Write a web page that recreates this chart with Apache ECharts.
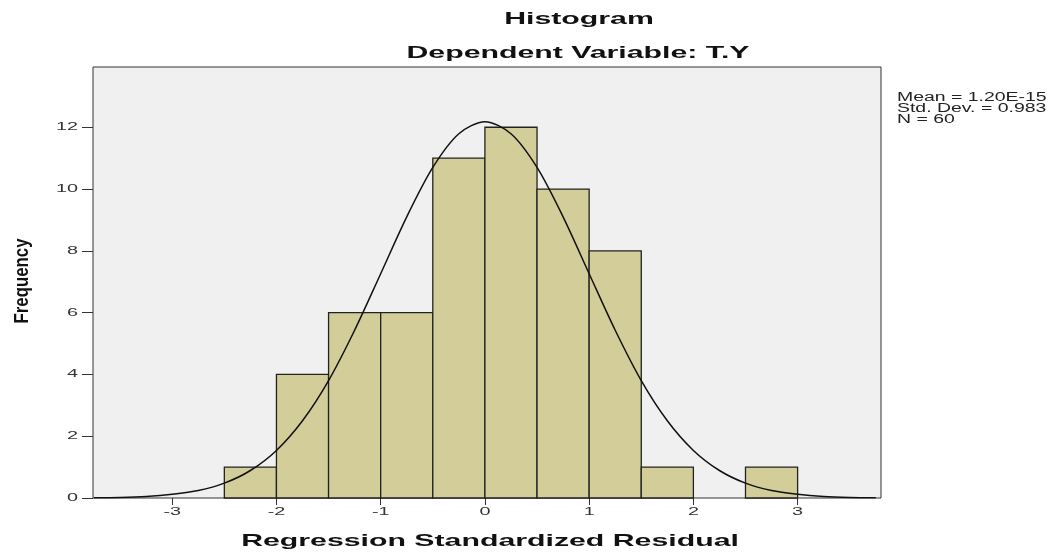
<!DOCTYPE html>
<html>
<head>
<meta charset="utf-8">
<script src="https://cdn.jsdelivr.net/npm/echarts@6/dist/echarts.min.js"></script>
<style>
	html, body { margin: 0; padding: 0; background: #fff; }
	#chart { width: 1060px; height: 556px; }
</style>
</head>
<body>
<div id="chart"></div>
<script>
// histogram bins (lower edge, width 0.5) and counts
const binStarts = [-2.5, -2.0, -1.5, -1.0, -0.5, 0.0, 0.5, 1.0, 1.5, 2.0, 2.5];
const binCounts = [1, 4, 6, 6, 11, 12, 10, 8, 1, 0, 1];
const binWidth = 0.5;

// normal curve, every 0.25
const curveX = [-3.75, -3.5, -3.25, -3, -2.75, -2.5, -2.25, -2, -1.75, -1.5, -1.25, -1, -0.75, -0.5, -0.25, 0,
	0.25, 0.5, 0.75, 1, 1.25, 1.5, 1.75, 2, 2.25, 2.5, 2.75, 3, 3.25, 3.5, 3.75];
const curveY = [0.01, 0.02, 0.05, 0.12, 0.24, 0.48, 0.89, 1.54, 2.5, 3.8, 5.43, 7.26, 9.1, 10.7, 11.79, 12.18,
	11.79, 10.7, 9.1, 7.26, 5.43, 3.8, 2.5, 1.54, 0.89, 0.48, 0.24, 0.12, 0.05, 0.02, 0.01];

const xTicks = [-3, -2, -1, 0, 1, 2, 3];
const yTicks = [0, 2, 4, 6, 8, 10, 12];
const statsLines = ["Mean = 1.20E-15", "Std. Dev. = 0.983", "N = 60"];

// the source picture is stretched sideways, so texts get a horizontal scale
const STRETCH = 1.78;
const FONT = "Liberation Sans, Arial, sans-serif";

const chart = echarts.init(document.getElementById("chart"));

chart.setOption({
	animation: false,
	textStyle: { fontFamily: FONT },
	grid: {
		left: 93,
		right: 179,
		top: 67,
		bottom: 58,
		show: true,
		backgroundColor: "#f0f0f0",
		borderColor: "#333",
		borderWidth: 1,
	},
	xAxis: {
		type: "value",
		min: -3.76,
		max: 3.8,
		axisLine: { show: false, onZero: false },
		axisTick: { show: true, length: 7, customValues: xTicks, lineStyle: { color: "#333" } },
		axisLabel: { show: false, customValues: xTicks },
		splitLine: { show: false },
	},
	yAxis: {
		type: "value",
		min: 0,
		max: 13.95,
		axisLine: { show: false, onZero: false },
		axisTick: { show: true, length: 11, customValues: yTicks, lineStyle: { color: "#333" } },
		axisLabel: { show: false, customValues: yTicks },
		splitLine: { show: false },
	},
	series: [
		{
			type: "custom",
			data: binStarts.map((x, i) => [x, binCounts[i]]),
			renderItem: (params, api) => {
				const x0 = api.value(0);
				const h = api.value(1);
				if (!h) return null;
				const p0 = api.coord([x0, h]);
				const p1 = api.coord([x0 + binWidth, 0]);
				return {
					type: "rect",
					shape: { x: p0[0], y: p0[1], width: p1[0] - p0[0], height: p1[1] - p0[1] },
					style: { fill: "#d3ce99", stroke: "#222", lineWidth: 1.3 },
				};
			},
			z: 2,
		},
		{
			type: "line",
			data: curveX.map((x, i) => [x, curveY[i]]),
			smooth: 0.3,
			showSymbol: false,
			lineStyle: { color: "#111", width: 1.5 },
			z: 3,
		},
	],
});

// texts, placed from the chart's own scales
const txt = (text, x, y, size, opts = {}) => ({
	type: "text",
	x, y,
	scaleX: opts.scaleX ?? STRETCH,
	scaleY: opts.scaleY ?? 1,
	rotation: opts.rotation ?? 0,
	style: {
		text,
		fontSize: size,
		fontWeight: opts.bold ? "bold" : "normal",
		fontFamily: FONT,
		fill: opts.color ?? "#111",
		align: opts.align ?? "center",
		verticalAlign: opts.vAlign ?? "middle",
		lineHeight: opts.lineHeight,
	},
	z: 10,
});

const graphics = [];
const yBase = chart.convertToPixel({ yAxisIndex: 0 }, 0);
xTicks.forEach(v => {
	graphics.push(txt(String(v), chart.convertToPixel({ xAxisIndex: 0 }, v), yBase + 14, 11, { color: "#333", scaleX: 1.8 }));
});
yTicks.forEach(v => {
	graphics.push(txt(String(v), 78, chart.convertToPixel({ yAxisIndex: 0 }, v), 11, { color: "#333", scaleX: 1.8, align: "right" }));
});
graphics.push(txt("Histogram", 579, 19, 17, { bold: true }));
graphics.push(txt("Dependent Variable: T.Y", 578, 53, 17, { bold: true }));
graphics.push(txt("Regression Standardized Residual", 490, 541, 17, { bold: true }));
graphics.push(txt("Frequency", 22, 281, 15, { bold: true, rotation: Math.PI / 2, scaleX: 1.12, scaleY: 1.4 }));
graphics.push(txt(statsLines.join("\n"), 897, 92, 12, { color: "#222", scaleX: 1.62, align: "left", vAlign: "top", lineHeight: 11 }));

chart.setOption({ graphic: graphics });
</script>
</body>
</html>
